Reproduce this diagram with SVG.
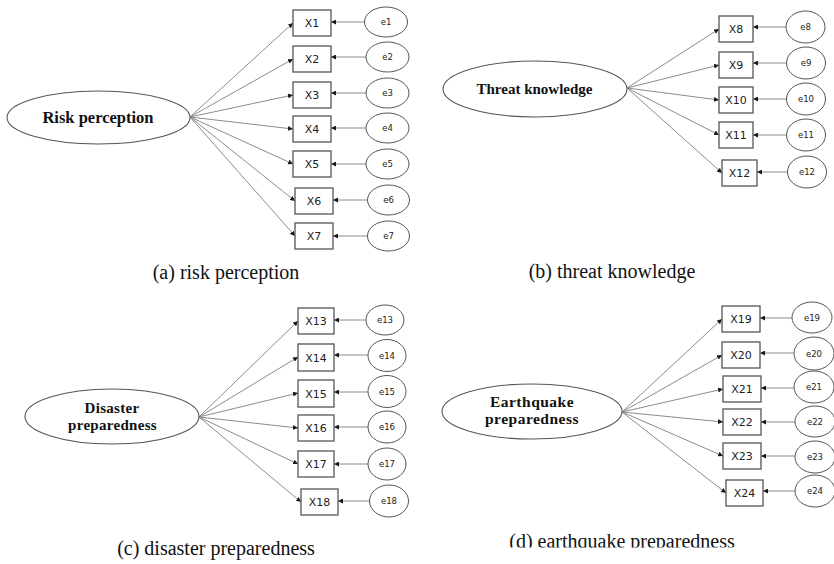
<svg xmlns="http://www.w3.org/2000/svg" width="834" height="564" viewBox="0 0 834 564">
<defs>
<marker id="ah" markerWidth="5" markerHeight="5" refX="5" refY="2.5" orient="auto" markerUnits="userSpaceOnUse"><path d="M0,0 L5,2.5 L0,5 z" fill="#1a1a1a"/></marker>
<clipPath id="capclip"><rect x="0" y="0" width="834" height="547.5"/></clipPath>
</defs>
<style>
.lat{fill:#fff;stroke:#555;stroke-width:1.1}
.box{fill:#fff;stroke:#555;stroke-width:1.3}
.err{fill:#fff;stroke:#555;stroke-width:1}
.ln{stroke:#8c8c8c;stroke-width:1;fill:none;marker-end:url(#ah)}
.lt{font-family:"Liberation Serif","Times New Roman",serif;font-weight:bold;fill:#111;text-anchor:middle}
.bt{font-family:"DejaVu Sans",Verdana,sans-serif;font-size:11px;fill:#222;text-anchor:middle}
.et{font-family:"DejaVu Sans",Verdana,sans-serif;font-size:8.5px;fill:#222;text-anchor:middle}
.cap{font-family:"Liberation Serif","Times New Roman",serif;font-size:20px;fill:#111;text-anchor:middle}
</style>
<rect width="834" height="564" fill="#fff"/>

<g id="connectors">
<!-- panel a -->
<path class="ln" d="M190,117 L293,23"/>
<path class="ln" d="M190,117 L293,59"/>
<path class="ln" d="M190,117 L293,95"/>
<path class="ln" d="M190,117 L293,129"/>
<path class="ln" d="M190,117 L293,164"/>
<path class="ln" d="M190,117 L295,201"/>
<path class="ln" d="M190,117 L295,236"/>
<path class="ln" d="M365,22 L331,22"/>
<path class="ln" d="M366,57 L331,57"/>
<path class="ln" d="M366,93 L331,93"/>
<path class="ln" d="M366,128 L331,128"/>
<path class="ln" d="M366,164 L331,164"/>
<path class="ln" d="M367,200 L333,200"/>
<path class="ln" d="M367,236 L333,236"/>
<!-- panel b -->
<path class="ln" d="M627,88 L719,29"/>
<path class="ln" d="M627,88 L719,65"/>
<path class="ln" d="M627,88 L719,100"/>
<path class="ln" d="M627,88 L719,135"/>
<path class="ln" d="M627,88 L722,173"/>
<path class="ln" d="M786,27 L753,27"/>
<path class="ln" d="M786.5,63 L753,63"/>
<path class="ln" d="M786.5,99 L753,99"/>
<path class="ln" d="M786.5,135 L753,135"/>
<path class="ln" d="M787.5,172 L757,172"/>
<!-- panel c -->
<path class="ln" d="M199,417 L298,321"/>
<path class="ln" d="M199,417 L298,357"/>
<path class="ln" d="M199,417 L298,393"/>
<path class="ln" d="M199,417 L298,428"/>
<path class="ln" d="M199,417 L298,464"/>
<path class="ln" d="M199,417 L301,502"/>
<path class="ln" d="M366,320 L334,320"/>
<path class="ln" d="M368,355 L334,355"/>
<path class="ln" d="M368,392 L334,392"/>
<path class="ln" d="M368,427 L334,427"/>
<path class="ln" d="M368,464 L334,464"/>
<path class="ln" d="M370,501 L338,501"/>
<!-- panel d -->
<path class="ln" d="M622,412 L722,319"/>
<path class="ln" d="M622,412 L722,355"/>
<path class="ln" d="M622,412 L723,389"/>
<path class="ln" d="M622,412 L723,422"/>
<path class="ln" d="M622,412 L723,456"/>
<path class="ln" d="M622,412 L726,493"/>
<path class="ln" d="M792,318 L760,318"/>
<path class="ln" d="M794,353 L760,353"/>
<path class="ln" d="M794,388 L761,388"/>
<path class="ln" d="M795,422 L761,422"/>
<path class="ln" d="M795,456 L761,456"/>
<path class="ln" d="M795,491 L763,491"/>
</g>

<!-- Panel a -->
<g id="risk"><ellipse class="lat" cx="98.5" cy="117.5" rx="91.5" ry="26.5"/><text class="lt" x="98" y="123" font-size="16.5">Risk perception</text></g>
<g id="X1"><rect class="box" x="293" y="10" width="38" height="26"/><text class="bt" x="312" y="27">X1</text></g>
<g id="X2"><rect class="box" x="293" y="46" width="38" height="26"/><text class="bt" x="312" y="63">X2</text></g>
<g id="X3"><rect class="box" x="293" y="82" width="38" height="26"/><text class="bt" x="312" y="99">X3</text></g>
<g id="X4"><rect class="box" x="293" y="116" width="38" height="26"/><text class="bt" x="312" y="133">X4</text></g>
<g id="X5"><rect class="box" x="293" y="151" width="38" height="26"/><text class="bt" x="312" y="168">X5</text></g>
<g id="X6"><rect class="box" x="295" y="188" width="38" height="26"/><text class="bt" x="314" y="205">X6</text></g>
<g id="X7"><rect class="box" x="295" y="223" width="38" height="26"/><text class="bt" x="314" y="240">X7</text></g>
<g id="e1"><ellipse class="err" cx="386" cy="22" rx="21.5" ry="15"/><text class="et" x="386" y="25">e1</text></g>
<g id="e2"><ellipse class="err" cx="387.5" cy="57" rx="21.5" ry="15"/><text class="et" x="387.5" y="60">e2</text></g>
<g id="e3"><ellipse class="err" cx="387.5" cy="93" rx="21.5" ry="15"/><text class="et" x="387.5" y="96">e3</text></g>
<g id="e4"><ellipse class="err" cx="387.5" cy="128" rx="21.5" ry="15"/><text class="et" x="387.5" y="131">e4</text></g>
<g id="e5"><ellipse class="err" cx="387.5" cy="164" rx="21.5" ry="15"/><text class="et" x="387.5" y="167">e5</text></g>
<g id="e6"><ellipse class="err" cx="388.5" cy="200" rx="21" ry="15"/><text class="et" x="388.5" y="203">e6</text></g>
<g id="e7"><ellipse class="err" cx="388.5" cy="236" rx="21" ry="15"/><text class="et" x="388.5" y="239">e7</text></g>
<text class="cap" x="226" y="279">(a) risk perception</text>

<!-- Panel b -->
<g id="threat"><ellipse class="lat" cx="535" cy="89" rx="92" ry="28"/><text class="lt" x="534.5" y="94" font-size="15">Threat knowledge</text></g>
<g id="X8"><rect class="box" x="719" y="16" width="34" height="26"/><text class="bt" x="736" y="33">X8</text></g>
<g id="X9"><rect class="box" x="719" y="52" width="34" height="26"/><text class="bt" x="736" y="69">X9</text></g>
<g id="X10"><rect class="box" x="719" y="87" width="34" height="26"/><text class="bt" x="736" y="104">X10</text></g>
<g id="X11"><rect class="box" x="719" y="122" width="34" height="26"/><text class="bt" x="736" y="139">X11</text></g>
<g id="X12"><rect class="box" x="722" y="160" width="35" height="26"/><text class="bt" x="739.5" y="177">X12</text></g>
<g id="e8"><ellipse class="err" cx="805.5" cy="27" rx="19.5" ry="16"/><text class="et" x="805.5" y="30">e8</text></g>
<g id="e9"><ellipse class="err" cx="806" cy="63" rx="19.5" ry="16"/><text class="et" x="806" y="66">e9</text></g>
<g id="e10"><ellipse class="err" cx="806" cy="99" rx="19.5" ry="16"/><text class="et" x="806" y="102">e10</text></g>
<g id="e11"><ellipse class="err" cx="806" cy="135" rx="19.5" ry="16"/><text class="et" x="806" y="138">e11</text></g>
<g id="e12"><ellipse class="err" cx="807" cy="172" rx="19.5" ry="16"/><text class="et" x="807" y="175">e12</text></g>
<text class="cap" x="612" y="278">(b) threat knowledge</text>

<!-- Panel c -->
<g id="disaster"><ellipse class="lat" cx="112" cy="416.5" rx="87" ry="27.5"/><text class="lt" x="112" y="413" font-size="15" letter-spacing="0.3">Disaster</text><text class="lt" x="112.5" y="429.5" font-size="15" letter-spacing="0.3">preparedness</text></g>
<g id="X13"><rect class="box" x="298" y="308" width="36" height="26"/><text class="bt" x="316" y="325">X13</text></g>
<g id="X14"><rect class="box" x="298" y="344" width="36" height="27"/><text class="bt" x="316" y="361.5">X14</text></g>
<g id="X15"><rect class="box" x="298" y="380" width="36" height="27"/><text class="bt" x="316" y="397.5">X15</text></g>
<g id="X16"><rect class="box" x="298" y="415" width="36" height="26"/><text class="bt" x="316" y="432">X16</text></g>
<g id="X17"><rect class="box" x="298" y="451" width="36" height="26"/><text class="bt" x="316" y="468">X17</text></g>
<g id="X18"><rect class="box" x="301" y="489" width="37" height="26"/><text class="bt" x="319.5" y="506">X18</text></g>
<g id="e13"><ellipse class="err" cx="385" cy="320" rx="19" ry="15"/><text class="et" x="385" y="323">e13</text></g>
<g id="e14"><ellipse class="err" cx="387" cy="355.5" rx="19" ry="16"/><text class="et" x="387" y="358.5">e14</text></g>
<g id="e15"><ellipse class="err" cx="387" cy="391.5" rx="19" ry="16"/><text class="et" x="387" y="394.5">e15</text></g>
<g id="e16"><ellipse class="err" cx="387" cy="427" rx="19" ry="16"/><text class="et" x="387" y="430">e16</text></g>
<g id="e17"><ellipse class="err" cx="387" cy="464" rx="19" ry="16"/><text class="et" x="387" y="467">e17</text></g>
<g id="e18"><ellipse class="err" cx="389" cy="501" rx="19.5" ry="16"/><text class="et" x="389" y="504">e18</text></g>
<text class="cap" x="216" y="555">(c) disaster preparedness</text>

<!-- Panel d -->
<g id="earthquake"><ellipse class="lat" cx="532" cy="411.5" rx="90" ry="27.5"/><text class="lt" x="532" y="407" font-size="15.5" letter-spacing="0.5">Earthquake</text><text class="lt" x="532" y="424" font-size="15.5" letter-spacing="0.5">preparedness</text></g>
<g id="X19"><rect class="box" x="722" y="306" width="38" height="26"/><text class="bt" x="741" y="323">X19</text></g>
<g id="X20"><rect class="box" x="722" y="342" width="38" height="26"/><text class="bt" x="741" y="359">X20</text></g>
<g id="X21"><rect class="box" x="723" y="376" width="38" height="26"/><text class="bt" x="742" y="393">X21</text></g>
<g id="X22"><rect class="box" x="723" y="409" width="38" height="26"/><text class="bt" x="742" y="426">X22</text></g>
<g id="X23"><rect class="box" x="723" y="443" width="38" height="26"/><text class="bt" x="742" y="460">X23</text></g>
<g id="X24"><rect class="box" x="726" y="480" width="37" height="26"/><text class="bt" x="744.5" y="497">X24</text></g>
<g id="e19"><ellipse class="err" cx="812" cy="317.5" rx="20" ry="15.5"/><text class="et" x="812" y="320.5">e19</text></g>
<g id="e20"><ellipse class="err" cx="814" cy="353.5" rx="20" ry="16.5"/><text class="et" x="814" y="356.5">e20</text></g>
<g id="e21"><ellipse class="err" cx="814" cy="387" rx="20" ry="16"/><text class="et" x="814" y="390">e21</text></g>
<g id="e22"><ellipse class="err" cx="815" cy="421.5" rx="20" ry="15.5"/><text class="et" x="815" y="424.5">e22</text></g>
<g id="e23"><ellipse class="err" cx="815" cy="457" rx="20" ry="16"/><text class="et" x="815" y="460">e23</text></g>
<g id="e24"><ellipse class="err" cx="815" cy="491" rx="20" ry="16"/><text class="et" x="815" y="494">e24</text></g>
<text class="cap" x="622" y="547.5" clip-path="url(#capclip)">(d) earthquake preparedness</text>
</svg>
